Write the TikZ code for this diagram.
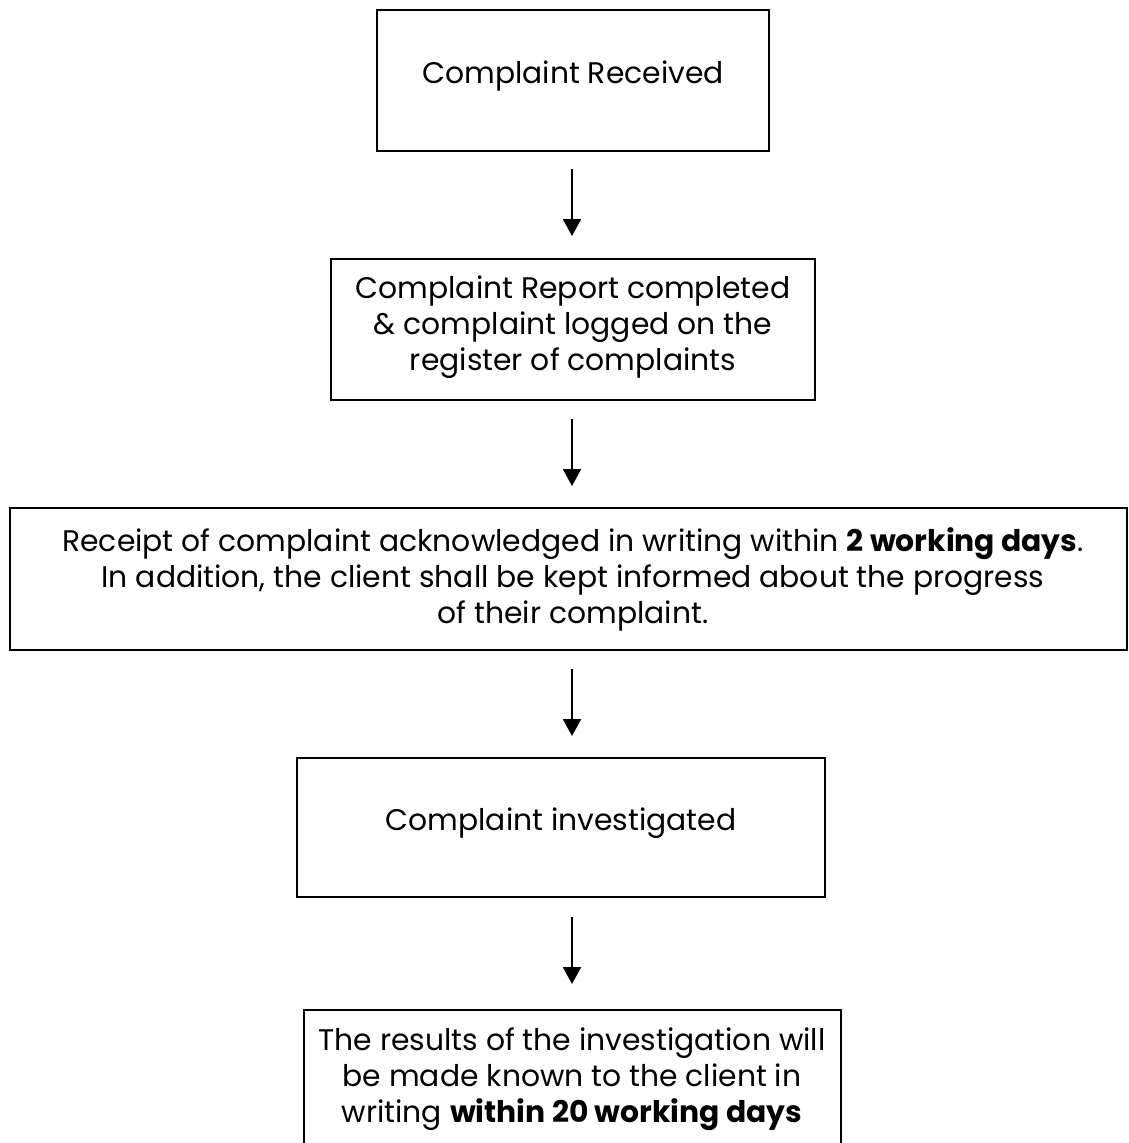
\documentclass[tikz,border=0pt]{standalone}
\usepackage{fontspec}
\setmainfont{Poppins}
\usetikzlibrary{arrows.meta}
\begin{document}
\begin{tikzpicture}[x=1pt,y=-1pt,
  box/.style={draw,line width=2.2pt},
  txt/.style={align=center,font=\fontsize{29.8}{36}\selectfont,inner sep=0pt},
  arr/.style={line width=2pt,-{Triangle[length=17pt,width=18pt]}}]
\useasboundingbox (0,0) rectangle (1128,1143);
\draw[box] (377,10) rectangle (769,151);
\node[txt] (t1) at (573,76) {Complaint Received};
\draw[box] (331,259) rectangle (815,400);
\node[txt] (t2) at (573,327) {Complaint Report completed\\ \& complaint logged on the\\ register of complaints};
\draw[box] (10,508) rectangle (1127,650);
\node[txt] (t3) at (573,579) {Receipt of complaint acknowledged in writing within \textbf{2 working days}.\\ In addition, the client shall be kept informed about the progress\\ of their complaint.};
\draw[box] (297,758) rectangle (825,897);
\node[txt] (t4) at (561,823) {Complaint investigated};
\draw[box] (304,1160) -- (304,1010) -- (841,1010) -- (841,1160);
\node[txt] (t5) at (572,1079) {The results of the investigation will\\ be made known to the client in\\ writing \textbf{within 20 working days}};
\coordinate (a1s) at (572,169); \coordinate (a1e) at (572,236);
\coordinate (a2s) at (572,419); \coordinate (a2e) at (572,486);
\coordinate (a3s) at (572,669); \coordinate (a3e) at (572,736);
\coordinate (a4s) at (572,917); \coordinate (a4e) at (572,984);
\draw[arr] (a1s) -- (a1e);
\draw[arr] (a2s) -- (a2e);
\draw[arr] (a3s) -- (a3e);
\draw[arr] (a4s) -- (a4e);
\end{tikzpicture}
\end{document}
